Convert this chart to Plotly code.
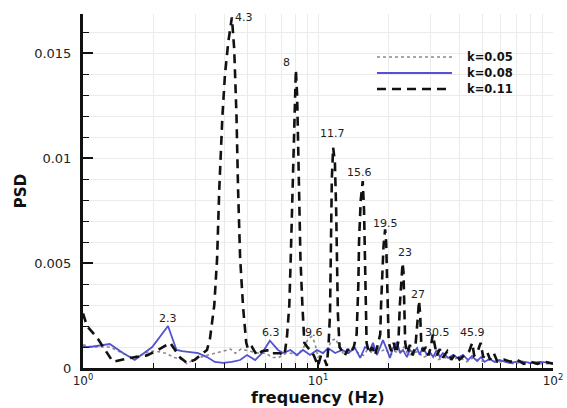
import math
import plotly.graph_objects as go

# ---------------- data ----------------
freq_k005 = [1.00, 1.10, 1.22, 1.30, 1.48, 1.60, 1.75, 1.93, 2.05, 2.25, 2.45, 2.65, 2.77, 2.95,
             3.15, 3.35, 3.65, 4.00, 4.25, 4.45, 4.70, 5.13, 5.60, 6.00, 6.40, 6.80, 7.30, 7.70,
             8.20, 8.70, 9.10, 9.40, 9.70, 10.0, 10.4, 10.9, 11.4, 11.9, 12.3, 12.8, 13.5, 14.2,
             14.9, 15.6, 16.3, 17.0, 17.8, 18.6, 19.4, 20.3, 21.2, 22.2, 23.2, 24.3, 25.5, 26.7,
             28.0, 29.3, 30.8, 32.5, 34.5, 37.0, 40.0, 43.0, 46.0, 49.0, 53.0, 57.0, 62.0, 68.0,
             75.0, 83.0, 91.0, 100.0]
psd_k005 = [0.0011, 0.0010, 0.0010, 0.0010, 0.0007, 0.0005, 0.0006, 0.0008, 0.0008, 0.0007, 0.0005,
            0.0004, 0.0002, 0.0004, 0.0005, 0.0006, 0.0007, 0.0008, 0.0009, 0.0007, 0.0009, 0.0008,
            0.0007, 0.0007, 0.0005, 0.0005, 0.0007, 0.0007, 0.0006, 0.0010, 0.0014, 0.0015, 0.0012,
            0.0005, 0.0007, 0.0008, 0.0013, 0.0014, 0.0010, 0.0007, 0.0007, 0.0009, 0.0007, 0.0006,
            0.0009, 0.0007, 0.0010, 0.0008, 0.0009, 0.0006, 0.0008, 0.0007, 0.0010, 0.0006, 0.0007,
            0.0008, 0.0005, 0.0006, 0.0007, 0.0004, 0.0005, 0.0004, 0.0005, 0.0003, 0.0005, 0.0003,
            0.0004, 0.0003, 0.0003, 0.0002, 0.0003, 0.0002, 0.0002, 0.0002]

freq_k008 = [1.00, 1.07, 1.30, 1.48, 1.66, 1.97, 2.30, 2.50, 2.64, 2.85, 3.09, 3.37, 3.64, 3.94,
             4.30, 4.66, 4.99, 5.40, 5.78, 6.24, 6.56, 6.76, 7.10, 7.63, 8.13, 8.63, 9.25, 9.90,
             10.5, 11.03, 11.83, 12.66, 13.43, 14.38, 15.12, 15.86, 16.65, 17.14, 17.82, 18.35,
             18.90, 19.66, 20.24, 20.84, 21.68, 22.33, 23.0, 23.9, 24.6, 25.35, 26.4, 27.1, 27.9,
             29.1, 29.9, 30.9, 32.0, 33.0, 34.0, 35.8, 37.5, 39.4, 41.4, 43.5, 45.2, 47.5, 49.4,
             51.1, 53.7, 56.5, 59.1, 65.6, 72.6, 79.9, 88.1, 100.0]
psd_k008 = [0.0010, 0.0010, 0.00114, 0.00071, 0.00038, 0.0010, 0.0020, 0.00086, 0.0008, 0.00076,
            0.00071, 0.00052, 0.00029, 0.00024, 0.00029, 0.00038, 0.00062, 0.00038, 0.00071, 0.0013,
            0.0010, 0.00086, 0.00071, 0.00086, 0.00062, 0.00086, 0.00062, 0.00086, 0.00071, 0.00095,
            0.00071, 0.00086, 0.00071, 0.00095, 0.00048, 0.0010, 0.00086, 0.0012, 0.00062, 0.0010,
            0.00133, 0.00086, 0.00048, 0.00095, 0.00124, 0.00071, 0.00086, 0.00052, 0.00086, 0.00071,
            0.00095, 0.00062, 0.0010, 0.00062, 0.00076, 0.00052, 0.00086, 0.00052, 0.00071, 0.00048,
            0.00062, 0.00048, 0.00062, 0.00038, 0.00057, 0.00033, 0.00052, 0.00029, 0.00043, 0.00029,
            0.00038, 0.00024, 0.00033, 0.00024, 0.00029, 0.00024]

freq_k011 = [1.00, 1.04, 1.15, 1.22, 1.34, 1.48, 1.63, 1.87, 2.09, 2.35, 2.59, 2.77, 3.00, 3.15,
             3.37, 3.47, 3.62, 3.72, 3.80, 3.92, 4.02, 4.15, 4.30, 4.40, 4.50, 4.57, 4.66, 4.80,
             4.95, 5.05, 5.24, 5.50, 5.78, 6.24, 6.40, 6.90, 7.20, 7.38, 7.55, 7.65, 7.75, 7.85,
             7.95, 8.05, 8.15, 8.25, 8.33, 8.42, 8.58, 8.75, 9.00, 9.25, 9.60, 9.90, 10.0, 10.3,
             10.6, 10.9, 11.1, 11.25, 11.35, 11.45, 11.6, 11.8, 11.95, 12.05, 12.15, 12.35, 12.7,
             13.0, 13.4, 13.7, 14.2, 14.6, 14.85, 14.95, 15.2, 15.5, 15.7, 15.85, 15.95, 16.1,
             16.5, 17.0, 17.5, 18.0, 18.4, 18.55, 18.75, 19.0, 19.3, 19.5, 19.65, 19.8, 20.0,
             20.5, 21.0, 21.5, 22.0, 22.3, 22.6, 22.9, 23.1, 23.3, 23.5, 24.0, 24.6, 25.3, 26.0,
             26.5, 26.9, 27.2, 27.5, 28.0, 28.8, 29.5, 30.2, 30.8, 31.3, 32.0, 33.0, 34.0, 35.5,
             37.0, 38.5, 40.0, 42.0, 44.0, 45.3, 46.2, 47.5, 49.2, 50.5, 52.5, 54.0, 56.0, 58.0,
             62.0, 66.0, 70.0, 75.0, 80.0, 86.0, 92.0, 100.0]
psd_k011 = [0.0026, 0.0020, 0.00143, 0.0010, 0.0003, 0.0004, 0.0005, 0.0006, 0.00086, 0.0012,
            0.0005, 0.00024, 0.0004, 0.0006, 0.00086, 0.0014, 0.0030, 0.0052, 0.0085, 0.0120,
            0.0140, 0.0155, 0.0167, 0.0152, 0.0120, 0.0085, 0.0053, 0.0029, 0.0012, 0.00086,
            0.0010, 0.0006, 0.0008, 0.00086, 0.0007, 0.0007, 0.0006, 0.0015, 0.0030, 0.0051,
            0.0075, 0.0100, 0.0125, 0.0142, 0.0130, 0.0105, 0.0075, 0.0052, 0.0030, 0.0012,
            0.0010, 0.00086, 0.0006, 0.0002, 0.0001, 0.0006, 0.0005, 0.0001, 0.0012, 0.0026,
            0.0060, 0.0090, 0.0105, 0.0098, 0.0075, 0.0045, 0.0026, 0.0010, 0.0008, 0.0006,
            0.0009, 0.0007, 0.0010, 0.0016, 0.0040, 0.0060, 0.0080, 0.0089, 0.0075, 0.0055,
            0.0035, 0.0012, 0.0007, 0.0010, 0.0006, 0.0011, 0.0016, 0.0030, 0.0045, 0.0058,
            0.0066, 0.0060, 0.0045, 0.0028, 0.0012, 0.0008, 0.0012, 0.0007, 0.0013, 0.0030,
            0.0042, 0.0050, 0.0046, 0.0030, 0.0012, 0.0007, 0.0011, 0.0006, 0.0011, 0.0022,
            0.0032, 0.0026, 0.0012, 0.0008, 0.0010, 0.0006, 0.0010, 0.0016, 0.0012, 0.0006,
            0.0009, 0.0005, 0.0008, 0.0004, 0.0007, 0.0004, 0.0006, 0.0008, 0.0012, 0.0006,
            0.0007, 0.0012, 0.0005, 0.00076, 0.0004, 0.0007, 0.0003, 0.0004, 0.0003, 0.0004,
            0.0002, 0.0003, 0.0002, 0.0003, 0.0002]

series_names = ["k=0.05", "k=0.08", "k=0.11"]

peak_labels = ["2.3", "4.3", "8", "11.7", "15.6", "19.5", "23", "27", "30.5", "45.9", "9.6", "6.3"]
peak_label_f = [2.30, 4.84, 7.38, 11.58, 15.09, 19.46, 23.45, 26.65, 32.1, 45.66, 9.61, 6.31]
peak_label_v = [0.00238, 0.01670, 0.01457, 0.01119, 0.00933, 0.00686, 0.00552, 0.00348,
                0.00171, 0.00167, 0.00171, 0.00167]

x_tickvals = [1, 10, 100]
x_ticktext = ["10<sup>0</sup>", "10<sup>1</sup>", "10<sup>2</sup>"]
x_minorvals = [2, 3, 4, 5, 6, 7, 8, 9, 20, 30, 40, 50, 60, 70, 80, 90]
y_tickvals = [0, 0.005, 0.01, 0.015]
y_ticktext = ["0", "0.005", "0.01", "0.015"]

# ---------------- styles ----------------
FONT = "DejaVu Sans"
dotted_style = dict(color="#8a8a8a", width=1.6, dash="dot")
blue_style = dict(color="#5252d2", width=1.8)
dashed_style = dict(color="#111111", width=2.6, dash="9px,6px")

fig = go.Figure()
fig.add_trace(go.Scatter(x=freq_k005, y=psd_k005, mode="lines", line=dotted_style,
                         name=series_names[0], showlegend=False))
fig.add_trace(go.Scatter(x=freq_k008, y=psd_k008, mode="lines", line=blue_style,
                         name=series_names[1], showlegend=False))
fig.add_trace(go.Scatter(x=freq_k011, y=psd_k011, mode="lines", line=dashed_style,
                         name=series_names[2], showlegend=False))

# peak annotations (log axis -> annotation x in log10 units)
for t, f, v in zip(peak_labels, peak_label_f, peak_label_v):
    fig.add_annotation(x=math.log10(f), y=v, xref="x", yref="y", text=t, showarrow=False,
                       font=dict(family=FONT, size=11, color="#222"),
                       xanchor="center", yanchor="middle")

# legend drawn manually (long line samples like the reference)
leg_y = [0.8785, 0.8333, 0.7881]
for name, st, yy in zip(series_names, [dotted_style, blue_style, dashed_style], leg_y):
    fig.add_shape(type="line", xref="paper", yref="paper", x0=0.6255, x1=0.785, y0=yy, y1=yy,
                  line=st)
    fig.add_annotation(xref="paper", yref="paper", x=0.8128, y=yy, text=name, showarrow=False,
                       xanchor="left", yanchor="middle",
                       font=dict(family=FONT, size=11.5, color="#111", weight="bold"))

# x axis title (placed as text just under the tick labels)
fig.add_annotation(xref="paper", yref="paper", x=0.5, y=-0.083, text="frequency (Hz)",
                   showarrow=False, xanchor="center", yanchor="middle",
                   font=dict(family=FONT, size=16, color="#111", weight="bold"))

grid_col = "#ebebeb"
fig.update_layout(
    width=567, height=408,
    margin=dict(l=83, r=14, t=14, b=40, autoexpand=False),
    paper_bgcolor="white", plot_bgcolor="white",
    font=dict(family=FONT, color="#222"),
    xaxis=dict(
        type="log", range=[0, 2], automargin=False,
        tickmode="array", tickvals=x_tickvals, ticktext=x_ticktext,
        ticks="inside", ticklen=8, tickwidth=2, tickcolor="#111",
        tickfont=dict(family=FONT, size=12, color="#222"),
        ticklabelstandoff=0,
        showline=True, linewidth=3, linecolor="#111", mirror=False,
        showgrid=True, gridcolor=grid_col, gridwidth=1, zeroline=False,
        minor=dict(tickmode="array", tickvals=x_minorvals, ticks="inside", ticklen=5,
                   tickwidth=1, tickcolor="#111", showgrid=True, gridcolor=grid_col),
    ),
    yaxis=dict(
        range=[0, 0.01686], automargin=False,
        tickmode="array", tickvals=y_tickvals, ticktext=y_ticktext,
        ticks="inside", ticklen=10, tickwidth=2, tickcolor="#111",
        tickfont=dict(family=FONT, size=13, color="#222"),
        ticklabelstandoff=6,
        showline=True, linewidth=3, linecolor="#111", mirror=False,
        showgrid=True, gridcolor=grid_col, gridwidth=1, zeroline=False,
        minor=dict(dtick=0.001, ticks="inside", ticklen=6, tickwidth=1, tickcolor="#111",
                   showgrid=True, gridcolor=grid_col),
        title=dict(text="PSD", standoff=4,
                   font=dict(family=FONT, size=15, color="#111", weight="bold")),
    ),
)

fig.write_html("out.html")
